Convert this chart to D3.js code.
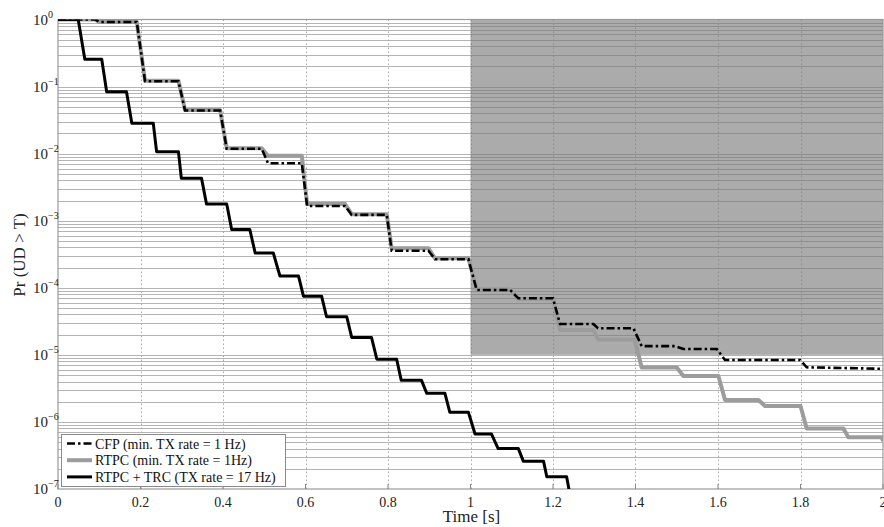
<!DOCTYPE html>
<html><head><meta charset="utf-8">
<script src="https://cdn.jsdelivr.net/npm/d3@7/dist/d3.min.js"></script>
<style>body{margin:0;background:#fff}svg{display:block}</style>
</head><body>
<svg id="c" width="884" height="527"></svg>
<script>
const xTicks = [0, 0.2, 0.4, 0.6, 0.8, 1, 1.2, 1.4, 1.6, 1.8, 2];
const yExps = [0, -1, -2, -3, -4, -5, -6, -7];
const legendLabels = ["CFP (min. TX rate = 1 Hz)", "RTPC (min. TX rate = 1Hz)", "RTPC + TRC (TX rate = 17 Hz)"];
const shadeRegion = {t0: 1.0, t1: 2.0, p0: 1e-5, p1: 1};

const rtpc = [[0,1],[0.09,1],[0.10,0.92],[0.191,0.92],[0.211,0.122],[0.292,0.122],[0.308,0.0447],[0.393,0.0447],[0.409,0.012],[0.494,0.012],[0.509,0.0093],[0.591,0.0093],[0.604,0.00177],[0.696,0.00177],[0.712,0.00125],[0.797,0.00125],[0.809,3.88e-4],[0.898,3.88e-4],[0.914,2.75e-4],[0.995,2.75e-4],[1.015,9.5e-5],[1.096,9.5e-5],[1.116,6.8e-5],[1.2,6.8e-5],[1.217,2.35e-5],[1.298,2.35e-5],[1.309,1.7e-5],[1.398,1.7e-5],[1.415,6.5e-6],[1.5,6.5e-6],[1.516,4.84e-6],[1.601,4.84e-6],[1.617,2.12e-6],[1.698,2.12e-6],[1.714,1.73e-6],[1.8,1.73e-6],[1.815,8.0e-7],[1.904,8.0e-7],[1.916,5.9e-7],[1.997,5.9e-7],[2.0,5.2e-7]];
const cfp = [[0,1],[0.09,1],[0.10,0.92],[0.191,0.92],[0.211,0.12],[0.292,0.12],[0.308,0.044],[0.393,0.044],[0.409,0.0118],[0.494,0.0118],[0.509,0.0072],[0.591,0.0072],[0.604,0.00166],[0.696,0.00166],[0.712,0.00122],[0.797,0.00122],[0.809,3.57e-4],[0.898,3.57e-4],[0.914,2.66e-4],[0.995,2.66e-4],[1.015,9.27e-5],[1.096,9.27e-5],[1.116,6.97e-5],[1.2,6.97e-5],[1.217,2.88e-5],[1.298,2.88e-5],[1.309,2.49e-5],[1.395,2.49e-5],[1.415,1.35e-5],[1.496,1.35e-5],[1.516,1.22e-5],[1.597,1.22e-5],[1.617,8.4e-6],[1.799,8.4e-6],[1.815,6.52e-6],[2.0,6.2e-6]];
const trc = [[0,1],[0.049,1],[0.065,0.255],[0.106,0.255],[0.118,0.084],[0.166,0.084],[0.179,0.0283],[0.231,0.0283],[0.239,0.0107],[0.292,0.0107],[0.299,0.00428],[0.348,0.00428],[0.36,0.00177],[0.409,0.00177],[0.421,7.4e-4],[0.465,7.4e-4],[0.478,3.3e-4],[0.522,3.3e-4],[0.538,1.5e-4],[0.583,1.5e-4],[0.595,7.5e-5],[0.639,7.5e-5],[0.651,3.7e-5],[0.70,3.7e-5],[0.712,1.82e-5],[0.760,1.82e-5],[0.773,8.6e-6],[0.821,8.6e-6],[0.832,4.2e-6],[0.881,4.2e-6],[0.894,2.67e-6],[0.938,2.67e-6],[0.95,1.39e-6],[0.995,1.39e-6],[1.011,6.6e-7],[1.051,6.6e-7],[1.067,4.0e-7],[1.116,4.0e-7],[1.128,2.6e-7],[1.177,2.6e-7],[1.185,1.52e-7],[1.233,1.52e-7],[1.24,9e-8]];

const L = 58, R = 883, T = 19.5, B = 489;
const svg = d3.select("#c");
const x = d3.scaleLinear().domain([0, 2]).range([L, R]);
const y = d3.scaleLog().domain([1e-7, 1]).range([B, T]);
const serif = "'Liberation Serif', 'Times New Roman', serif";

svg.append("defs").append("clipPath").attr("id","plot").append("rect")
  .attr("x", L).attr("y", T).attr("width", R - L).attr("height", B - T);
svg.select("defs").append("clipPath").attr("id","shadeclip").append("rect")
  .attr("x", x(shadeRegion.t0)).attr("y", y(shadeRegion.p1))
  .attr("width", x(shadeRegion.t1) - x(shadeRegion.t0)).attr("height", y(shadeRegion.p0) - y(shadeRegion.p1));

// shaded region
svg.append("rect").attr("x", x(shadeRegion.t0)).attr("y", y(shadeRegion.p1))
  .attr("width", x(shadeRegion.t1) - x(shadeRegion.t0)).attr("height", y(shadeRegion.p0) - y(shadeRegion.p1))
  .attr("fill", "#ababab");

// grid values
const minorVals = [];
for (let e = -7; e < 0; e++) for (let m = 1; m <= 9; m++) minorVals.push(m * Math.pow(10, e));

function drawGrid(g, hColor, vColor) {
  g.selectAll("line.h").data(minorVals).join("line").attr("class","h")
    .attr("x1", L).attr("x2", R).attr("y1", d => Math.round(y(d)) + 0.5).attr("y2", d => Math.round(y(d)) + 0.5)
    .attr("stroke", hColor).attr("stroke-width", 1);
  g.selectAll("line.v").data(xTicks.slice(1, -1)).join("line").attr("class","v")
    .attr("y1", T).attr("y2", B).attr("x1", d => Math.round(x(d)) + 0.5).attr("x2", d => Math.round(x(d)) + 0.5)
    .attr("stroke", vColor).attr("stroke-width", 1).attr("stroke-dasharray", "1.5,2.5");
}
drawGrid(svg.append("g").attr("clip-path","url(#plot)"), "#b4b4b4", "#a8a8a8");
drawGrid(svg.append("g").attr("clip-path","url(#shadeclip)"), "#8e8e8e", "#8a8a8a");

// frame
svg.append("rect").attr("x", L).attr("y", T).attr("width", R - L).attr("height", B - T)
  .attr("fill", "none").attr("stroke", "#9a9a9a").attr("stroke-width", 1.2);

// ticks
svg.append("g").selectAll("line").data(xTicks).join("line")
  .attr("x1", d => x(d)).attr("x2", d => x(d)).attr("y1", B).attr("y2", B - 5)
  .attr("stroke", "#888").attr("stroke-width", 1);

// curves
const line = d3.line().x(d => x(d[0])).y(d => y(d[1]));
const cg = svg.append("g").attr("clip-path","url(#plot)");
cg.append("path").datum(rtpc).attr("d", line).attr("fill","none")
  .attr("stroke","#9c9c9c").attr("stroke-width",4).attr("stroke-linejoin","round");
cg.append("path").datum(cfp).attr("d", line).attr("fill","none")
  .attr("stroke","#000").attr("stroke-width",2.6).attr("stroke-dasharray","8,3,2.5,3");
cg.append("path").datum(trc).attr("d", line).attr("fill","none")
  .attr("stroke","#000").attr("stroke-width",3).attr("stroke-linejoin","round");

// x tick labels
svg.append("g").selectAll("text").data(xTicks).join("text")
  .attr("x", d => x(d)).attr("y", 507).attr("text-anchor","middle")
  .attr("font-family", serif).attr("font-size", 14).attr("fill","#222")
  .text(d => d3.format("~g")(d));

// y tick labels
const yl = svg.append("g").selectAll("text").data(yExps).join("text")
  .attr("x", 33).attr("y", d => y(Math.pow(10, d)) + 5)
  .attr("font-family", serif).attr("font-size", 15).attr("fill","#222");
yl.append("tspan").text("10");
yl.append("tspan").attr("font-size", 10).attr("dy", -7).text(d => d === 0 ? "0" : "\u2212" + Math.abs(d));

// axis titles
svg.append("text").attr("x", 471.5).attr("y", 522).attr("text-anchor","middle")
  .attr("font-family", serif).attr("font-size", 17).attr("fill","#222").text("Time [s]");
svg.append("text").attr("transform","translate(25,255) rotate(-90)").attr("text-anchor","middle")
  .attr("font-family", serif).attr("font-size", 17).attr("fill","#222").text("Pr (UD > T)");

// legend
const lg = svg.append("g");
lg.append("rect").attr("x", 61.5).attr("y", 434.5).attr("width", 224).attr("height", 52)
  .attr("fill","#fff").attr("stroke","#8a8a8a").attr("stroke-width",1);
const styles = [
  {stroke:"#000", w:2.6, dash:"8,3,2.5,3"},
  {stroke:"#9c9c9c", w:4, dash:null},
  {stroke:"#000", w:3, dash:null}
];
legendLabels.forEach((lab, i) => {
  const yy = 443.5 + i * 16.7;
  lg.append("line").attr("x1", 67).attr("x2", 92).attr("y1", yy).attr("y2", yy)
    .attr("stroke", styles[i].stroke).attr("stroke-width", styles[i].w)
    .attr("stroke-dasharray", styles[i].dash);
  lg.append("text").attr("x", 95).attr("y", yy + 5).attr("font-family", serif)
    .attr("font-size", 14).attr("fill","#111").text(lab);
});
</script>
</body></html>
